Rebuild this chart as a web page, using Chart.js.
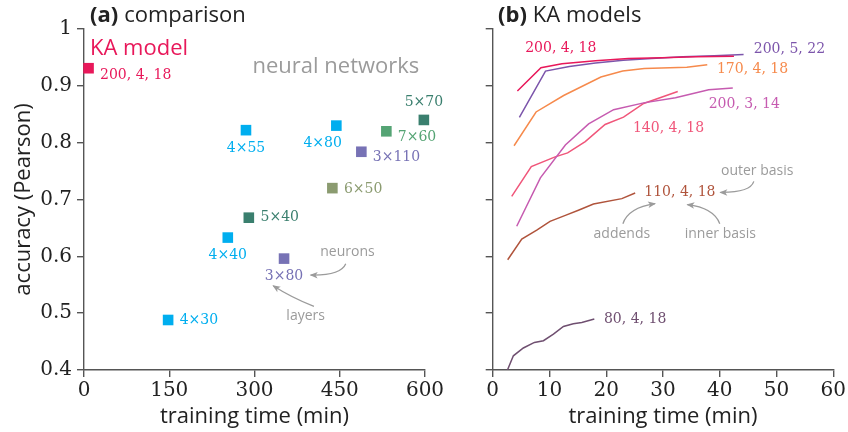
<!DOCTYPE html>
<html>
<head>
<meta charset="utf-8">
<script src="https://cdn.jsdelivr.net/npm/chart.js@4.4.1/dist/chart.umd.min.js"></script>
<style>
  html, body { margin: 0; padding: 0; background: #fff; }
  #wrap { position: relative; width: 848px; height: 432px; overflow: hidden; }
  #wrap canvas { position: absolute; top: 0; }
  #chartA { left: 0; }
  #chartB { left: 440px; }
</style>
</head>
<body>
<div id="wrap">
  <canvas id="chartA" width="470" height="432"></canvas>
  <canvas id="chartB" width="408" height="432"></canvas>
</div>
<script>
// ---- data: (a) comparison ----
const nnNames = ['4×30', '4×40', '4×55', '4×80', '5×40', '5×70', '6×50', '7×60', '3×80', '3×110'];
const nnTime  = [148, 253, 285, 444, 290, 598, 437, 532, 352, 488];
const nnAcc   = [0.488, 0.633, 0.822, 0.830, 0.668, 0.840, 0.720, 0.820, 0.596, 0.784];
const kaName = '200, 4, 18';
const kaTime = [8];
const kaAcc  = [0.931];

// ---- data: (b) KA models (training time in min, Pearson accuracy) ----
const kaModels = ['200, 4, 18', '200, 5, 22', '170, 4, 18', '200, 3, 14', '140, 4, 18', '110, 4, 18', '80, 4, 18'];
const t200_4_18 = [4.35, 8.5, 12.2, 18.1, 23.9, 29.8, 35.7, 42.5];
const a200_4_18 = [0.891, 0.932, 0.939, 0.944, 0.948, 0.9495, 0.951, 0.952];
const t200_5_22 = [4.7, 9.3, 13.5, 18.1, 23, 28, 33.5, 39, 44.2];
const a200_5_22 = [0.8445, 0.926, 0.934, 0.940, 0.945, 0.948, 0.951, 0.953, 0.955];
const t170_4_18 = [3.76, 7.64, 12.5, 19.06, 22.9, 26.7, 34.2, 37.8];
const a170_4_18 = [0.7946, 0.854, 0.883, 0.9155, 0.926, 0.9307, 0.9325, 0.937];
const t200_3_14 = [4.23, 8.4, 12.8, 16.9, 21.3, 26.6, 32.2, 38.05, 42.3];
const a200_3_14 = [0.653, 0.738, 0.796, 0.833, 0.858, 0.870, 0.879, 0.893, 0.896];
const t140_4_18 = [3.35, 6.8, 11, 13.2, 16.3, 19.8, 23.05, 26.6, 32.6];
const a140_4_18 = [0.7055, 0.758, 0.775, 0.782, 0.802, 0.832, 0.845, 0.869, 0.890];
const t110_4_18 = [2.64, 5.12, 7.76, 10.1, 12.8, 15.1, 17.75, 22.75, 25.1];
const a110_4_18 = [0.594, 0.6305, 0.646, 0.6615, 0.672, 0.681, 0.692, 0.7015, 0.7114];
const t80_4_18  = [2.6, 3.64, 5.4, 7.35, 8.94, 10.7, 12.46, 14.2, 15.7, 17.9];
const a80_4_18  = [0.400, 0.425, 0.4387, 0.4485, 0.4515, 0.4633, 0.4767, 0.4815, 0.4837, 0.4897];

// ---- tick labels ----
const xTicksA = [0, 150, 300, 450, 600];
const xTicksB = [0, 10, 20, 30, 40, 50, 60];
const yTicks  = [0.4, 0.5, 0.6, 0.7, 0.8, 0.9, 1];

// ---- styles ----
const SERIF = '"DejaVu Serif", serif';
const SANS = '"Open Sans", "Noto Sans", sans-serif';
const AXIS = '#555';
const INK = '#222';
const GRAY = '#9b9b9b';
const RED = '#e8185a';
const CYAN = '#00aeef', TEAL = '#3a7f6e', OLIVE = '#8b9b70', GREEN = '#55a474', PURP = '#7772b5';
const nnColors = [CYAN, CYAN, CYAN, CYAN, TEAL, TEAL, OLIVE, GREEN, PURP, PURP];
// label placement relative to each square (px)
const nnLabelDx = [11.6, 0, 0, -13.7, 11.7, 0, 11.6, 11.4, 0, 11.4];
const nnLabelDy = [0.4, 18, 18.3, 17.6, 0, -17.7, 1, 6, 18, 6];
const nnLabelAlign = ['left', 'center', 'center', 'center', 'left', 'center', 'left', 'left', 'center', 'left'];
const lineColors = ['#e8185a', '#7c55ab', '#f68a4c', '#c65bb0', '#f0567a', '#b0543c', '#6f4f70'];
// label anchors in data units (t, acc) and alignment
const lineLabelT = [12.0, 46.0, 39.5, 38.05, 24.7, 26.7, 19.6];
const lineLabelA = [0.9666, 0.9648, 0.9296, 0.868, 0.8258, 0.7125, 0.4897];
const lineLabelAlign = ['center', 'left', 'left', 'left', 'left', 'left', 'left'];

function toXY(xs, ys) { return xs.map((v, i) => ({x: v, y: ys[i]})); }

function axisX(max, tickVals) {
  return {
    type: 'linear', min: 0, max: max,
    afterBuildTicks: s => { s.ticks = tickVals.map(v => ({value: v})); },
    afterFit: s => { s.height = 62; },
    border: {color: AXIS, width: 1.4},
    grid: {drawOnChartArea: false, drawTicks: true, tickLength: 7, color: AXIS, lineWidth: 1.4},
    ticks: {color: INK, font: {family: SERIF, size: 20}, padding: 2, maxRotation: 0, autoSkip: false},
    title: {display: true, text: 'training time (min)', color: INK, font: {family: SANS, size: 22}, padding: {top: 0, bottom: 2}}
  };
}

function axisY(width, showLabels) {
  return {
    type: 'linear', min: 0.4, max: 1,
    afterBuildTicks: s => { s.ticks = yTicks.map(v => ({value: v})); },
    afterFit: s => { s.width = width; },
    border: {color: AXIS, width: 1.4},
    grid: {drawOnChartArea: false, drawTicks: true, tickLength: 7, color: AXIS, lineWidth: 1.4},
    ticks: {
      color: INK, font: {family: SERIF, size: 20}, padding: 5,
      callback: v => showLabels ? String(Number(v.toFixed(1))) : ''
    },
    title: {display: showLabels, text: 'accuracy (Pearson)', color: INK, font: {family: SANS, size: 22}, padding: {top: 11, bottom: 0}}
  };
}

function drawText(ctx, str, x, y, color, font, align) {
  ctx.fillStyle = color;
  ctx.font = font;
  ctx.textAlign = align || 'left';
  ctx.textBaseline = 'middle';
  ctx.fillText(str, x, y);
}

function drawArrow(ctx, sx, sy, cx, cy, ex, ey) {
  ctx.strokeStyle = GRAY;
  ctx.fillStyle = GRAY;
  ctx.lineWidth = 1.3;
  ctx.beginPath();
  ctx.moveTo(sx, sy);
  ctx.quadraticCurveTo(cx, cy, ex, ey);
  ctx.stroke();
  const ang = Math.atan2(ey - cy, ex - cx);
  const L = 7, W = 3.2;
  ctx.beginPath();
  ctx.moveTo(ex + Math.cos(ang) * 1, ey + Math.sin(ang) * 1);
  ctx.lineTo(ex - Math.cos(ang) * L - Math.sin(ang) * W, ey - Math.sin(ang) * L + Math.cos(ang) * W);
  ctx.lineTo(ex - Math.cos(ang) * (L - 2), ey - Math.sin(ang) * (L - 2));
  ctx.lineTo(ex - Math.cos(ang) * L + Math.sin(ang) * W, ey - Math.sin(ang) * L - Math.cos(ang) * W);
  ctx.closePath();
  ctx.fill();
}

function dataArrow(ctx, x, y, p) {
  drawArrow(ctx,
    x.getPixelForValue(p[0]), y.getPixelForValue(p[1]),
    x.getPixelForValue(p[2]), y.getPixelForValue(p[3]),
    x.getPixelForValue(p[4]), y.getPixelForValue(p[5]));
}

function panelTitle(ctx, left, bold, rest) {
  ctx.font = 'bold 22px ' + SANS;
  ctx.fillStyle = INK;
  ctx.textAlign = 'left';
  ctx.textBaseline = 'middle';
  ctx.fillText(bold, left, 16);
  const w = ctx.measureText(bold).width;
  ctx.font = '22px ' + SANS;
  ctx.fillText(rest, left + w + 6, 16);
}

// annotations for (a)
const annotA = {
  afterDraw(chart) {
    const {ctx, scales: {x, y}} = chart;
    ctx.save();
    const lf = '14px ' + SERIF;
    nnNames.forEach((n, i) => {
      drawText(ctx, n, x.getPixelForValue(nnTime[i]) + nnLabelDx[i], y.getPixelForValue(nnAcc[i]) + nnLabelDy[i], nnColors[i], lf, nnLabelAlign[i]);
    });
    drawText(ctx, kaName, x.getPixelForValue(kaTime[0]) + 11.5, y.getPixelForValue(kaAcc[0]) + 6.7, RED, lf, 'left');
    drawText(ctx, 'KA model', x.getPixelForValue(10.6), y.getPixelForValue(0.9653), RED, '22px ' + SANS, 'left');
    drawText(ctx, 'neural networks', x.getPixelForValue(296.5), y.getPixelForValue(0.9337), GRAY, '22px ' + SANS, 'left');
    drawText(ctx, 'neurons', x.getPixelForValue(463.6), y.getPixelForValue(0.607), GRAY, '14px ' + SANS, 'center');
    drawText(ctx, 'layers', x.getPixelForValue(390), y.getPixelForValue(0.4955), GRAY, '14px ' + SANS, 'center');
    dataArrow(ctx, x, y, [460.6, 0.587, 451.7, 0.566, 398.8, 0.5671]);
    dataArrow(ctx, x, y, [404.6, 0.5119, 363.5, 0.5284, 332.9, 0.5483]);
    panelTitle(ctx, 90, '(a)', 'comparison');
    ctx.restore();
  }
};

// annotations for (b)
const annotB = {
  afterDraw(chart) {
    const {ctx, scales: {x, y}} = chart;
    ctx.save();
    kaModels.forEach((n, i) => {
      drawText(ctx, n, x.getPixelForValue(lineLabelT[i]), y.getPixelForValue(lineLabelA[i]), lineColors[i], '14px ' + SERIF, lineLabelAlign[i]);
    });
    const gf = '14px ' + SANS;
    drawText(ctx, 'outer basis', x.getPixelForValue(46.6), y.getPixelForValue(0.7507), GRAY, gf, 'center');
    drawText(ctx, 'addends', x.getPixelForValue(22.76), y.getPixelForValue(0.6393), GRAY, gf, 'center');
    drawText(ctx, 'inner basis', x.getPixelForValue(40.1), y.getPixelForValue(0.6393), GRAY, gf, 'center');
    dataArrow(ctx, x, y, [46.0, 0.7318, 45.4, 0.712, 40.1, 0.7125]);
    dataArrow(ctx, x, y, [22.94, 0.6574, 23.9, 0.6855, 28.6, 0.6926]);
    dataArrow(ctx, x, y, [40.0, 0.6574, 38.9, 0.6855, 34.3, 0.6908]);
    panelTitle(ctx, 58, '(b)', 'KA models');
    ctx.restore();
  }
};

new Chart(document.getElementById('chartA'), {
  type: 'scatter',
  data: {
    datasets: [{
      label: 'KA model',
      data: toXY(kaTime, kaAcc),
      pointStyle: 'rect', pointRadius: 7.5, pointHoverRadius: 7.5,
      backgroundColor: RED, borderWidth: 0, clip: false
    }, {
      label: 'neural networks',
      data: toXY(nnTime, nnAcc),
      pointStyle: 'rect', pointRadius: 7.5, pointHoverRadius: 7.5,
      backgroundColor: nnColors, borderWidth: 0, clip: false
    }]
  },
  options: {
    responsive: false,
    animation: false,
    layout: {padding: {top: 29, right: 45, left: 0, bottom: 0}},
    plugins: {legend: {display: false}, tooltip: {enabled: false}},
    scales: {x: axisX(600, xTicksA), y: axisY(84, true)}
  },
  plugins: [annotA]
});

const series = [
  [t200_4_18, a200_4_18], [t200_5_22, a200_5_22], [t170_4_18, a170_4_18], [t200_3_14, a200_3_14],
  [t140_4_18, a140_4_18], [t110_4_18, a110_4_18], [t80_4_18, a80_4_18]
];

new Chart(document.getElementById('chartB'), {
  type: 'scatter',
  data: {
    datasets: series.map((s, i) => ({
      label: kaModels[i],
      data: toXY(s[0], s[1]),
      showLine: true,
      borderColor: lineColors[i],
      borderWidth: 1.5,
      pointRadius: 0,
      tension: 0
    }))
  },
  options: {
    responsive: false,
    animation: false,
    layout: {padding: {top: 29, right: 14.7, left: 0, bottom: 0}},
    plugins: {legend: {display: false}, tooltip: {enabled: false}},
    scales: {x: axisX(60, xTicksB), y: axisY(52.7, false)}
  },
  plugins: [annotB]
});
</script>
</body>
</html>
